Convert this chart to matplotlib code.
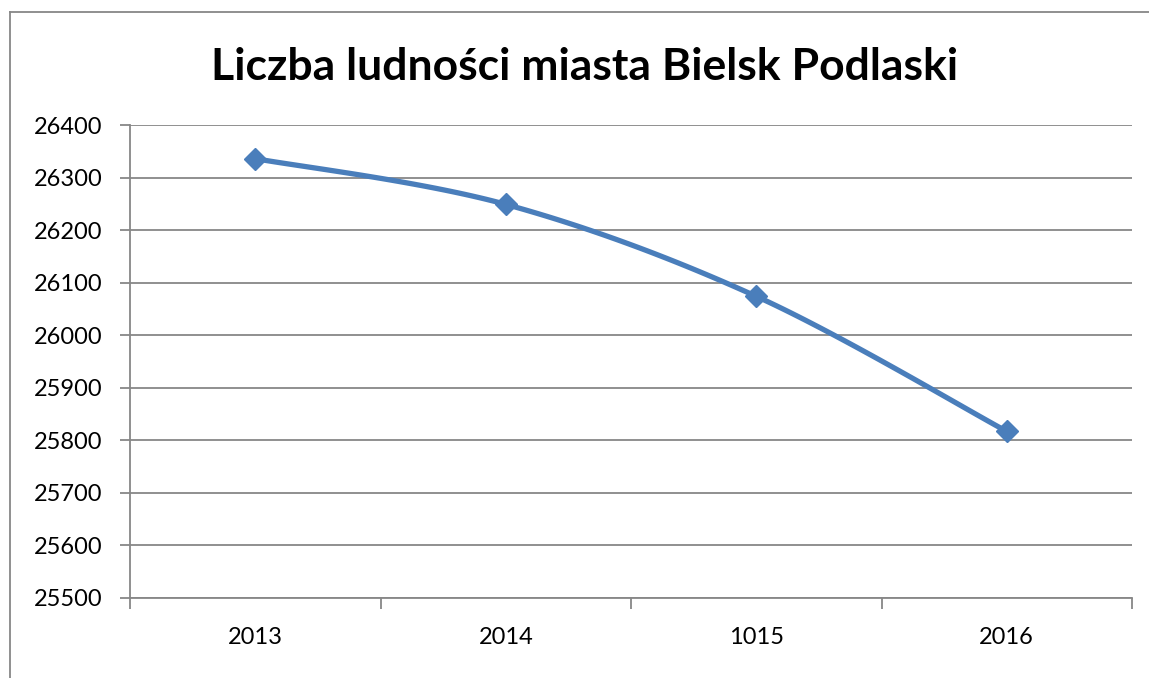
import numpy as np
import matplotlib
matplotlib.use("Agg")
from matplotlib import pyplot as plt
from matplotlib.lines import Line2D

# data
years = ["2013", "2014", "1015", "2016"]
population = [26336, 26249, 26074, 25817]
y_ticks = [25500, 25600, 25700, 25800, 25900, 26000, 26100, 26200, 26300, 26400]

line_color = "#4A7EBB"
grid_color = "#878787"

plt.rcParams["font.family"] = ["Lato", "DejaVu Sans"]

fig = plt.figure(figsize=(11.49, 6.78), dpi=100)
ax = fig.add_axes([130 / 1149, 1 - 598 / 678, (1132 - 130) / 1149, (598 - 125) / 678])

xlim = (-0.5, len(years) - 0.5)
ylim = (y_ticks[0], y_ticks[-1])
ax.set_xlim(*xlim)
ax.set_ylim(*ylim)

# smoothed line like Excel's (bezier through the points, in pixel-like space)
xs = np.arange(len(years), dtype=float)
ys = np.array(population, dtype=float)
px = (xs - xlim[0]) / (xlim[1] - xlim[0]) * 1002
py = (ys - ylim[0]) / (ylim[1] - ylim[0]) * 473
pts = np.column_stack([px, py])
n = len(pts)
curve = []
for i in range(n - 1):
    p0 = pts[max(i - 1, 0)]
    p1 = pts[i]
    p2 = pts[i + 1]
    p3 = pts[min(i + 2, n - 1)]
    c1 = p1 + (p2 - p0) / 6
    c2 = p2 - (p3 - p1) / 6
    t = np.linspace(0, 1, 40)[:, None]
    seg = (1 - t) ** 3 * p1 + 3 * (1 - t) ** 2 * t * c1 + 3 * (1 - t) * t ** 2 * c2 + t ** 3 * p2
    curve.append(seg if i == 0 else seg[1:])
curve = np.vstack(curve)
cx = curve[:, 0] / 1002 * (xlim[1] - xlim[0]) + xlim[0]
cy = curve[:, 1] / 473 * (ylim[1] - ylim[0]) + ylim[0]

ax.plot(cx, cy, color=line_color, lw=3.8, solid_capstyle="round", zorder=3)
ax.plot(xs, ys, linestyle="none", marker="D", markersize=11, color=line_color, zorder=4)

ax.set_yticks(y_ticks)
ax.set_yticklabels([str(v) for v in y_ticks])
ax.yaxis.grid(True, color=grid_color, lw=1.3)
ax.set_axisbelow(True)

ax.set_xticks(xs)
ax.set_xticklabels(years)
ax.set_xticks(np.arange(len(years) + 1) - 0.5, minor=True)
ax.tick_params(axis="x", which="major", length=0, pad=21, labelsize=17)
ax.tick_params(axis="x", which="minor", length=8, width=1.3, color=grid_color, direction="out")
ax.tick_params(axis="y", length=7, width=1.3, color=grid_color, pad=13, labelsize=17)

for s in ["top", "right"]:
    ax.spines[s].set_visible(False)
for s in ["left", "bottom"]:
    ax.spines[s].set_color(grid_color)
    ax.spines[s].set_linewidth(1.3)

fig.text(585 / 1149, 1 - 67 / 678, "Liczba ludności miasta Bielsk Podlaski",
         ha="center", va="center", fontsize=32, fontweight="bold")

# chart area border (only left and top visible)
fig.add_artist(Line2D([9.5 / 1149, 9.5 / 1149], [0, 1 - 12 / 678], color=grid_color, lw=1.3))
fig.add_artist(Line2D([9.5 / 1149, 1], [1 - 12 / 678, 1 - 12 / 678], color=grid_color, lw=1.3))

fig.savefig("out.png", dpi=100)
